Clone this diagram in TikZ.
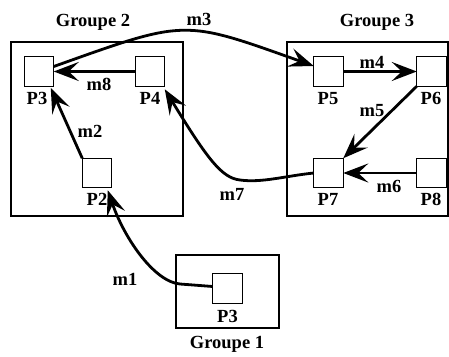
\documentclass[tikz,border=0pt]{standalone}
\usepackage{fontspec}
\setmainfont{Liberation Serif}
\usetikzlibrary{arrows.meta}
\begin{document}
\begin{tikzpicture}[x=1pt,y=-1pt,
  grp/.style={draw, line width=1.2pt, inner sep=0pt, outer sep=0pt},
  proc/.style={draw, line width=1.2pt, minimum width=29.5pt, minimum height=29.5pt, inner sep=0pt, outer sep=0pt},
  txt/.style={font=\fontsize{18.5}{20}\selectfont\bfseries, inner sep=0pt, anchor=base},
  msg/.style={line width=2.8pt, -{Stealth[length=25pt,width=19pt,inset=10pt]}}
]
\useasboundingbox (0,0) rectangle (449,356);
% groups
\node[grp, minimum width=172pt, minimum height=174pt] (G2) at (97,129) {};
\node[grp, minimum width=161pt, minimum height=174pt] (G3) at (367.5,129) {};
\node[grp, minimum width=103pt, minimum height=73pt] (G1) at (227.5,291.5) {};
\node[txt] (tG2) at (93,26) {Groupe 2};
\node[txt] (tG3) at (377,26) {Groupe 3};
\node[txt] (tG1) at (227,348) {Groupe 1};
% processes
\node[proc] (P3a) at (39,71.5) {};
\node[proc] (P4) at (150,71.5) {};
\node[proc] (P2) at (97,173) {};
\node[proc] (P5) at (328.5,71.5) {};
\node[proc] (P6) at (431.5,71.5) {};
\node[proc] (P7) at (328.5,173) {};
\node[proc] (P8) at (431.5,173) {};
\node[proc] (P3b) at (227.5,288.5) {};
\node[txt] (lP3a) at (37,104) {P3};
\node[txt] (lP4) at (150,104) {P4};
\node[txt] (lP2) at (97,205) {P2};
\node[txt] (lP5) at (328,104) {P5};
\node[txt] (lP6) at (431,104) {P6};
\node[txt] (lP7) at (328,205) {P7};
\node[txt] (lP8) at (431,205) {P8};
\node[txt] (lP3b) at (227.5,322) {P3};
% message labels
\node[txt] (m1) at (125,285) {m1};
\node[txt] (m2) at (90,137) {m2};
\node[txt] (m3) at (199,25) {m3};
\node[txt] (m4) at (372,68) {m4};
\node[txt] (m5) at (372,116) {m5};
\node[txt] (m6) at (389,192) {m6};
\node[txt] (m7) at (232,200) {m7};
\node[txt] (m8) at (99,90) {m8};
% messages
\draw[msg] (P4.west) -- (P3a.east);
\draw[msg] (P2.north west) -- ([shift={(-3,1.5)}]P3a.south east);
\draw[msg] ([shift={(0,-5)}]P3a.east) .. controls (187,19) and (182,19) .. ([shift={(0,-5.5)}]P5.west);
\draw[msg] (P5.east) -- (P6.west);
\draw[msg] (P6.south west) -- (P7.north east);
\draw[msg] (P8.west) -- (P7.east);
\draw[msg] (P7.west) .. controls (285,176) and (262,183) .. (240,180)
   .. controls (222,178) and (208,160) .. ([shift={(0,3)}]P4.south east);
\draw[msg] ([shift={(0,-2)}]P3b.west) -- (180,284)
   .. controls (155,282) and (125,240) .. ([shift={(-4,2.5)}]P2.south east);
\end{tikzpicture}
\end{document}
